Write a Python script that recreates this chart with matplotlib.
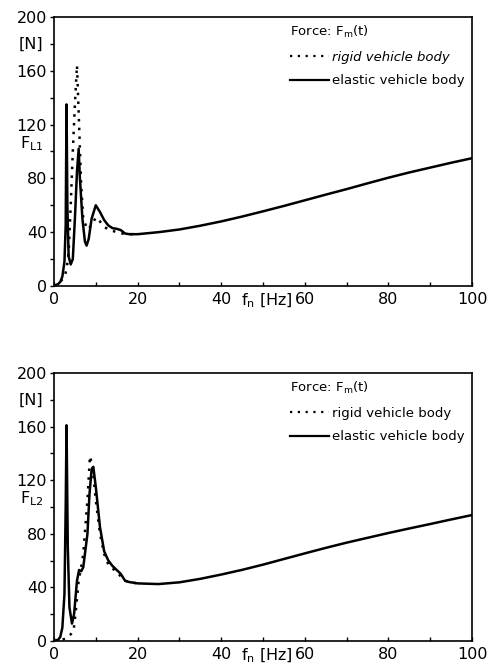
import matplotlib
matplotlib.use('Agg')
import matplotlib.pyplot as plt
from matplotlib.ticker import MultipleLocator
from matplotlib.lines import Line2D
import matplotlib.transforms as mtransforms

plt.rcParams['font.family'] = ['DejaVu Sans']
plt.rcParams['mathtext.default'] = 'regular'

# upper panel, F_L1
f1_elastic = [0, 1, 1.5, 2, 2.5, 2.8, 3.0, 3.2, 3.5, 4.0, 4.5, 5.0, 5.5, 5.9, 6.2, 6.8,
              7.4, 7.8, 8.3, 9, 10, 11, 12, 13, 14, 15, 16, 17, 18, 20, 25, 30, 35,
              40, 45, 50, 55, 60, 65, 70, 75, 80, 85, 90, 95, 100]
F1_elastic = [0, 1.5, 3, 7, 18, 45, 135, 60, 22, 16, 20, 50, 85, 102, 80, 50,
              33, 30, 35, 50, 60, 55, 49, 45, 43, 42.5, 41.5, 39, 38.5, 38.5, 40, 42, 44.8,
              48, 51.6, 55.5, 59.5, 63.7, 67.9, 72, 76.3, 80.5, 84.4, 88, 91.6, 95]
f1_rigid = [0, 1, 2, 2.5, 3, 3.5, 4, 4.5, 5, 5.5, 6, 6.5, 7, 8, 9, 10, 11, 12, 13, 14,
            15, 16, 17, 18, 20]
F1_rigid = [0, 1, 5, 7, 12, 25, 60, 100, 135, 164, 120, 75, 50, 42, 45, 51, 48, 44, 42, 41,
            40, 39, 39, 38.5, 38.5]

# lower panel, F_L2
f2_elastic = [0, 1, 1.5, 2, 2.5, 2.8, 3.0, 3.3, 3.7, 4.3, 4.8, 5.5, 6, 6.5, 7, 8, 8.5, 9,
              9.4, 10, 11, 12, 13, 14, 15, 16, 17, 18, 20, 25, 30, 35, 40, 45, 50, 55,
              60, 65, 70, 75, 80, 85, 90, 95, 100]
F2_elastic = [0, 1, 3, 10, 35, 100, 161, 70, 25, 13, 20, 45, 53, 52, 55, 80, 110, 128,
              130, 115, 85, 67, 60, 56, 53, 50, 45, 44, 43, 42.5, 43.8, 46.4, 49.6, 53.1,
              57, 61.2, 65.4, 69.5, 73.4, 77, 80.6, 84, 87.3, 90.7, 94]
f2_rigid = [0, 2, 3, 4, 4.7, 5.3, 5.9, 6.5, 7, 7.5, 8, 8.6, 9.2, 10, 11, 12, 13, 14, 15,
            16, 17, 18, 20]
F2_rigid = [0, 1, 2, 5, 8, 25, 45, 55, 65, 85, 105, 138, 130, 105, 80, 65, 57, 54, 52,
            48, 45, 44, 43]

x_ticks = [0, 20, 40, 60, 80, 100]
y_ticks = [0, 40, 80, 120, 160, 200]

fig = plt.figure(figsize=(4.94, 6.68), dpi=100)
ax1 = fig.add_axes([0.1093, 0.5719, 0.8462, 0.4027])
ax2 = fig.add_axes([0.1093, 0.0404, 0.8462, 0.4012])

panels = [
    (ax1, f1_rigid, F1_rigid, f1_elastic, F1_elastic, 'F$_{L1}$', 'italic'),
    (ax2, f2_rigid, F2_rigid, f2_elastic, F2_elastic, 'F$_{L2}$', 'normal'),
]

for ax, fr, Fr, fe, Fe, ylab, rstyle in panels:
    ax.plot(fr, Fr, color='black', linewidth=1.8, linestyle=(0, (1, 2.5)))
    ax.plot(fe, Fe, color='black', linewidth=1.8)

    ax.set_xlim(0, 100)
    ax.set_ylim(0, 200)
    ax.set_xticks(x_ticks)
    ax.set_yticks(y_ticks)
    ax.xaxis.set_minor_locator(MultipleLocator(10))
    ax.yaxis.set_minor_locator(MultipleLocator(20))
    ax.tick_params(axis='x', which='both', direction='in', length=3, width=1,
                   labelsize=11.5, pad=4)
    ax.tick_params(axis='y', which='both', direction='out', length=3, width=1,
                   labelsize=11.5, pad=2)
    for s in ax.spines.values():
        s.set_linewidth(1.2)

    trans = mtransforms.blended_transform_factory(ax.transAxes, ax.transData)
    ax.text(-0.025, 180, '[N]', transform=trans, ha='right', va='center', fontsize=11.5)
    ax.text(-0.025, 106, ylab, transform=trans, ha='right', va='center', fontsize=11.5)
    tx = mtransforms.blended_transform_factory(ax.transData, ax.transAxes)
    ax.text(51, -0.021, 'f$_n$ [Hz]', transform=tx, ha='center', va='top', fontsize=11.5)

    handles = [Line2D([], [], color='black', linewidth=1.6, linestyle=(0, (1, 2.5))),
               Line2D([], [], color='black', linewidth=1.6)]
    leg = ax.legend(handles, ['rigid vehicle body', 'elastic vehicle body'],
                    title='Force: F$_m$(t)', loc='upper right', frameon=False,
                    fontsize=9.5, title_fontsize=9.5, handlelength=3.0,
                    handletextpad=0.2, borderaxespad=0.05, labelspacing=0.8,
                    borderpad=0.5)
    leg._legend_box.align = 'left'
    leg.get_texts()[0].set_style(rstyle)

fig.savefig('out.png', dpi=100)
